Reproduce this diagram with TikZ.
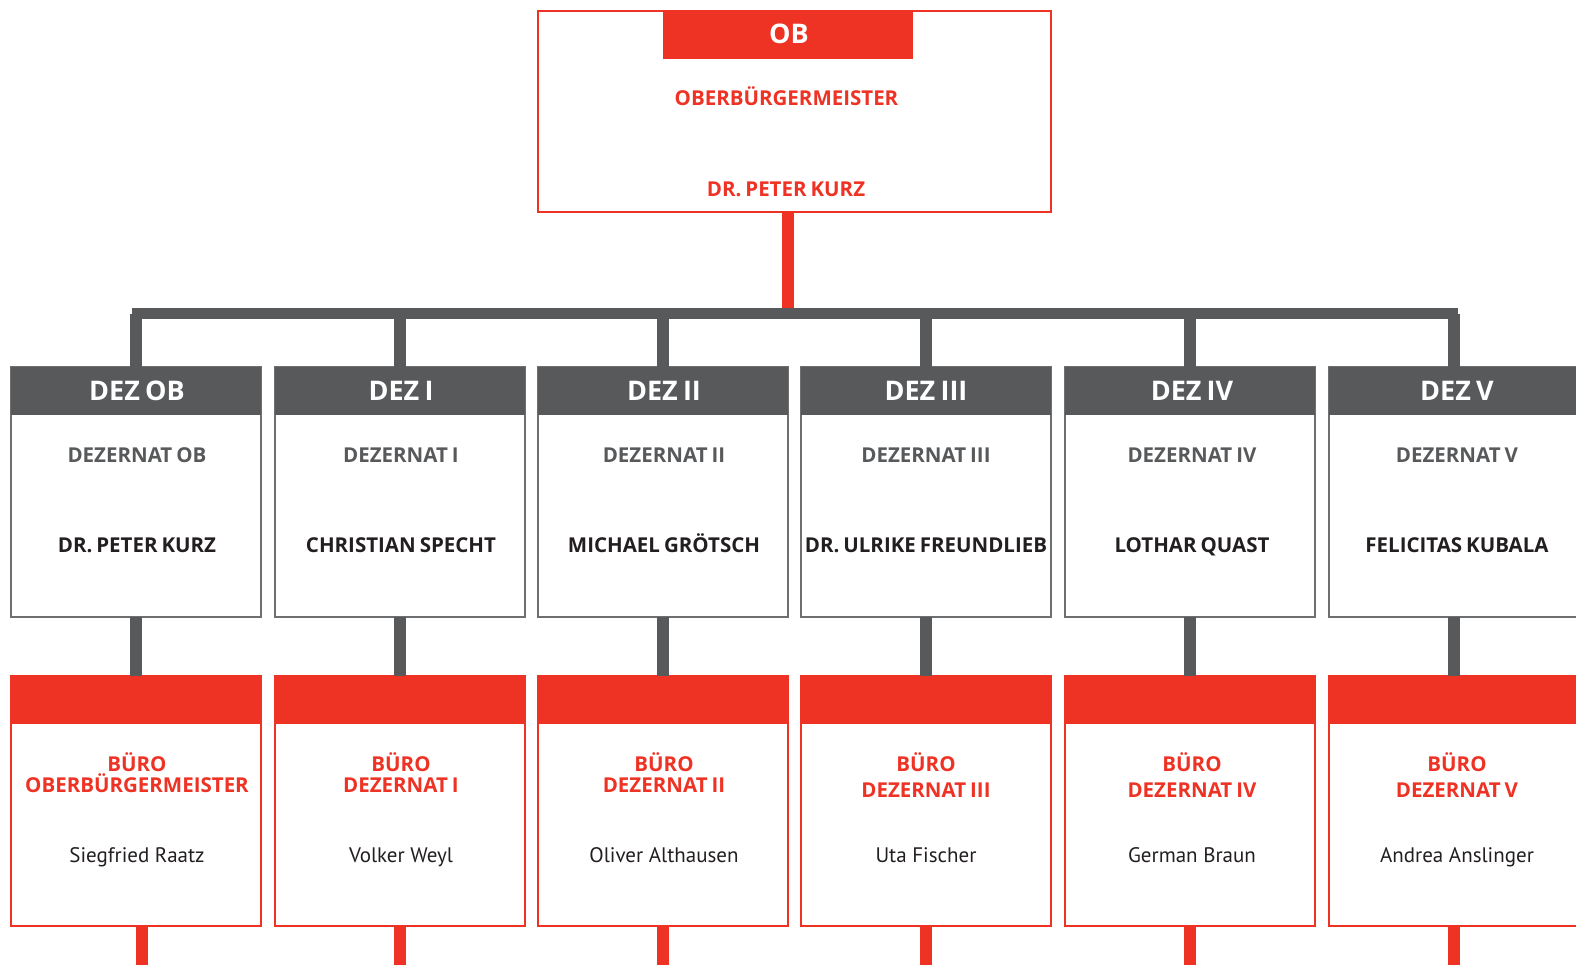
\documentclass[tikz,border=0pt]{standalone}
\usepackage{fontspec}
\setmainfont{PT Sans}
\newfontfamily\bfam{Open Sans}[WordSpace=0.75]
\definecolor{mred}{RGB}{238,50,36}
\definecolor{mgray}{RGB}{88,89,91}
\definecolor{mtext}{RGB}{35,31,32}
\definecolor{mbord}{RGB}{110,111,113}
\tikzset{
  dezbox/.style={draw=mbord, line width=1.3pt, fill=white, minimum width=250pt, minimum height=250pt, inner sep=0pt, outer sep=0pt, anchor=north west},
  burobox/.style={dezbox, draw=mred},
  obbox/.style={dezbox, draw=mred, minimum width=513pt, minimum height=201pt},
  dezhead/.style={fill=mgray, minimum width=250pt, minimum height=48pt, inner sep=0pt, outer sep=0pt, anchor=north west},
  burohead/.style={dezhead, fill=mred},
  headtxt/.style={text=white, font=\bfam\bfseries\fontsize{27}{30}\selectfont, inner sep=0pt, anchor=base},
  graytxt/.style={text=mgray, font=\bfam\bfseries\fontsize{20.5}{24}\selectfont, inner sep=0pt, anchor=base},
  nametxt/.style={text=mtext, font=\bfam\bfseries\fontsize{20.5}{24}\selectfont, inner sep=0pt, anchor=base},
  redtxt/.style={text=mred, font=\bfam\bfseries\fontsize{20.5}{24}\selectfont, inner sep=0pt, anchor=base},
  persontxt/.style={text=mtext, font=\fontsize{21}{24}\selectfont, inner sep=0pt, anchor=base},
  grayline/.style={draw=mgray, line width=11.5pt},
  redline/.style={draw=mred, line width=11.5pt},
}
\begin{document}
\begin{tikzpicture}[x=1pt,y=-1pt]
\useasboundingbox (0,0) rectangle (1576,964);
\clip (0,0) rectangle (1576,964);
\coordinate (barL) at (131.5,313.5);
\coordinate (barR) at (1458,313.5);
\coordinate (bottom) at (0,970);
% OB box
\node[obbox] (ob) at (538,11) {};
\node[burohead] (obhead) at (663,11) {};
\node[headtxt] (obt) at (789,43.5) {OB};
\node[redtxt] (obr) at (786.5,105.5) {OBERBÜRGERMEISTER};
\node[redtxt] (obn) at (786,196) {DR. PETER KURZ};
\draw[redline] (obhead.south |- ob.south) -- (obhead.south |- barL);
\draw[grayline] (barL) -- (barR);
\foreach \i/\lx/\tx/\hd/\dz/\nm/\bo/\yb/\pn in {
  1/11/137/DEZ OB/DEZERNAT OB/DR. PETER KURZ/OBERBÜRGERMEISTER/792.5/Siegfried Raatz,
  2/275/401/DEZ I/DEZERNAT I/CHRISTIAN SPECHT/DEZERNAT I/792.5/Volker Weyl,
  3/538/664/DEZ II/DEZERNAT II/MICHAEL GRÖTSCH/DEZERNAT II/792.5/Oliver Althausen,
  4/801/926/DEZ III/DEZERNAT III/DR. ULRIKE FREUNDLIEB/DEZERNAT III/797/Uta Fischer,
  5/1065/1192/DEZ IV/DEZERNAT IV/LOTHAR QUAST/DEZERNAT IV/797/German Braun,
  6/1329/1457/DEZ V/DEZERNAT V/FELICITAS KUBALA/DEZERNAT V/797/Andrea Anslinger}{
  \node[dezbox] (dez\i) at (\lx,367) {};
  \node[dezhead] (dezh\i) at (\lx,367) {};
  \node[headtxt] (dezht\i) at (\tx,400.5) {\hd};
  \node[graytxt] (dezt\i) at (\tx,462.5) {\dz};
  \node[nametxt] (dezn\i) at (\tx,552) {\nm};
  \node[burobox] (buro\i) at (\lx,676) {};
  \node[burohead] (buroh\i) at (\lx,676) {};
  \node[redtxt] (burot\i) at (\tx,771.5) {BÜRO};
  \node[redtxt] (burob\i) at (\tx,\yb) {\bo};
  \node[persontxt] (burop\i) at (\tx,862) {\pn};
  \draw[grayline] (dezh\i.north) -- (dezh\i.north |- barL);
  \draw[grayline] (dez\i.south) -- (buroh\i.north);
}
\draw[redline] ([xshift=6pt]buro1.south) -- ([xshift=6pt]buro1.south |- bottom);
\foreach \i in {2,...,6}{
  \draw[redline] (buro\i.south) -- (buro\i.south |- bottom);
}
\end{tikzpicture}
\end{document}
